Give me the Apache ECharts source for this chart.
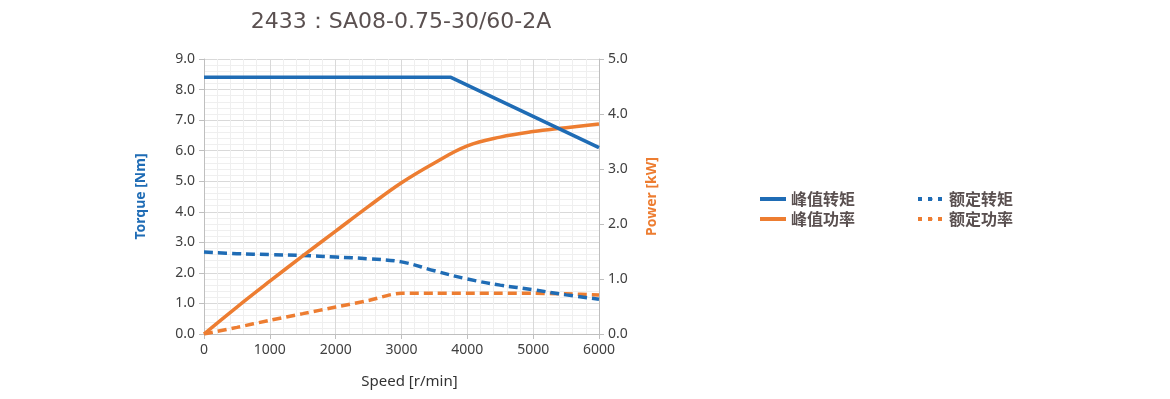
<!DOCTYPE html>
<html>
<head>
<meta charset="utf-8">
<script src="https://cdn.jsdelivr.net/npm/echarts@6/dist/echarts.min.js"></script>
<style>
  html, body { margin: 0; padding: 0; background: #fff; }
  #chart { width: 1170px; height: 399px; }
</style>
</head>
<body>
<div id="chart"></div>
<script>
// speed points, r/min
var speeds = [0, 500, 1000, 1500, 2000, 2500, 3000, 3500, 4000, 4500, 5000, 5500, 6000];
// peak torque has a corner, so it keeps its own speeds
var peakTorqueSpeeds = [0, 3750, 6000];
var peakTorque = [8.4, 8.4, 6.1];
var ratedTorque = [2.68, 2.63, 2.6, 2.57, 2.52, 2.46, 2.36, 2.07, 1.8, 1.6, 1.45, 1.28, 1.14];
var peakPower = [0, 0.49, 0.96, 1.42, 1.87, 2.32, 2.75, 3.11, 3.42, 3.58, 3.68, 3.75, 3.82];
var ratedPower = [0, 0.12, 0.25, 0.37, 0.49, 0.61, 0.74, 0.74, 0.74, 0.74, 0.74, 0.73, 0.71];

var BLUE = '#1f6cb5';
var ORANGE = '#ed7d31';
var TEXT = '#404040';

function pairs(xs, ys) {
    return xs.map(function (x, i) { return [x, ys[i]]; });
}

var chart = echarts.init(document.getElementById('chart'));

var axisCommon = {
    axisLine: { show: true, lineStyle: { color: '#bfbfbf', width: 1 } },
    axisTick: { show: true, length: 5, lineStyle: { color: '#bfbfbf' } }
};
var legendText = { color: '#5a5050', fontSize: 16, fontWeight: 'bold', fontFamily: 'Noto Sans CJK SC' };

chart.setOption({
    animation: false,
    title: {
        text: '2433：SA08-0.75-30/60-2A',
        left: 396,
        textAlign: 'center',
        top: 6,
        textStyle: {
            color: '#5a5050',
            fontSize: 22,
            fontWeight: 'normal',
            fontFamily: 'DejaVu Sans'
        }
    },
    legend: [{
        left: 753,
        top: 186,
        orient: 'vertical',
        itemWidth: 26,
        itemHeight: 4,
        itemGap: 4,
        textStyle: legendText,
        data: [
            { name: '峰值转矩', lineStyle: { width: 4 } },
            { name: '峰值功率', lineStyle: { width: 4 } }
        ]
    }, {
        left: 911,
        top: 186,
        orient: 'vertical',
        itemWidth: 26,
        itemHeight: 4,
        itemGap: 4,
        textStyle: legendText,
        data: [
            { name: '额定转矩', lineStyle: { type: [4, 6], width: 4 } },
            { name: '额定功率', lineStyle: { type: [4, 6], width: 4 } }
        ]
    }],
    grid: { left: 204, right: 571, top: 59, bottom: 65 },
    xAxis: Object.assign({}, axisCommon, {
        type: 'value',
        min: 0,
        max: 6000,
        interval: 1000,
        name: 'Speed [r/min]',
        nameLocation: 'middle',
        nameGap: 40,
        nameTextStyle: { color: '#333', fontSize: 15, fontFamily: 'Noto Sans', padding: [0, 0, 0, 16] },
        axisLabel: {
            color: TEXT, fontSize: 14, fontFamily: 'Noto Sans', margin: 9,
            formatter: function (v) { return String(v); }
        },
        splitLine: { show: true, lineStyle: { color: '#d9d9d9' } },
        minorTick: { show: false, splitNumber: 5 },
        minorSplitLine: { show: true, lineStyle: { color: '#efefef' } }
    }),
    yAxis: [
        Object.assign({}, axisCommon, {
            type: 'value',
            min: 0,
            max: 9,
            interval: 1,
            name: 'Torque [Nm]',
            nameLocation: 'middle',
            nameGap: 56,
            nameTextStyle: { color: BLUE, fontSize: 14, fontWeight: 'bold', fontFamily: 'Noto Sans' },
            axisLabel: {
                color: TEXT, fontSize: 14, fontFamily: 'Noto Sans', margin: 9,
                formatter: function (v) { return v.toFixed(1); }
            },
            splitLine: { show: true, lineStyle: { color: '#d9d9d9' } },
            minorTick: { show: false, splitNumber: 5 },
            minorSplitLine: { show: true, lineStyle: { color: '#efefef' } }
        }),
        Object.assign({}, axisCommon, {
            type: 'value',
            min: 0,
            max: 5,
            interval: 1,
            position: 'right',
            name: 'Power [kW]',
            nameLocation: 'middle',
            nameGap: 46,
            nameTextStyle: { color: ORANGE, fontSize: 14, fontWeight: 'bold', fontFamily: 'Noto Sans' },
            axisLabel: {
                color: TEXT, fontSize: 14, fontFamily: 'Noto Sans', margin: 9,
                formatter: function (v) { return v.toFixed(1); }
            },
            splitLine: { show: false }
        })
    ],
    series: [{
        name: '峰值转矩',
        type: 'line',
        yAxisIndex: 0,
        symbol: 'none',
        color: BLUE,
        lineStyle: { color: BLUE, width: 3.5 },
        data: pairs(peakTorqueSpeeds, peakTorque),
        z: 4
    }, {
        name: '峰值功率',
        type: 'line',
        yAxisIndex: 1,
        symbol: 'none',
        smooth: 0.4,
        color: ORANGE,
        lineStyle: { color: ORANGE, width: 3.5 },
        data: pairs(speeds, peakPower),
        z: 3
    }, {
        name: '额定转矩',
        type: 'line',
        yAxisIndex: 0,
        symbol: 'none',
        smooth: 0.4,
        color: BLUE,
        lineStyle: { color: BLUE, width: 3.5, type: [9, 5] },
        data: pairs(speeds, ratedTorque),
        z: 2
    }, {
        name: '额定功率',
        type: 'line',
        yAxisIndex: 1,
        symbol: 'none',
        smooth: 0.3,
        color: ORANGE,
        lineStyle: { color: ORANGE, width: 3.5, type: [9, 5] },
        data: pairs(speeds, ratedPower),
        z: 1
    }]
});
</script>
</body>
</html>
